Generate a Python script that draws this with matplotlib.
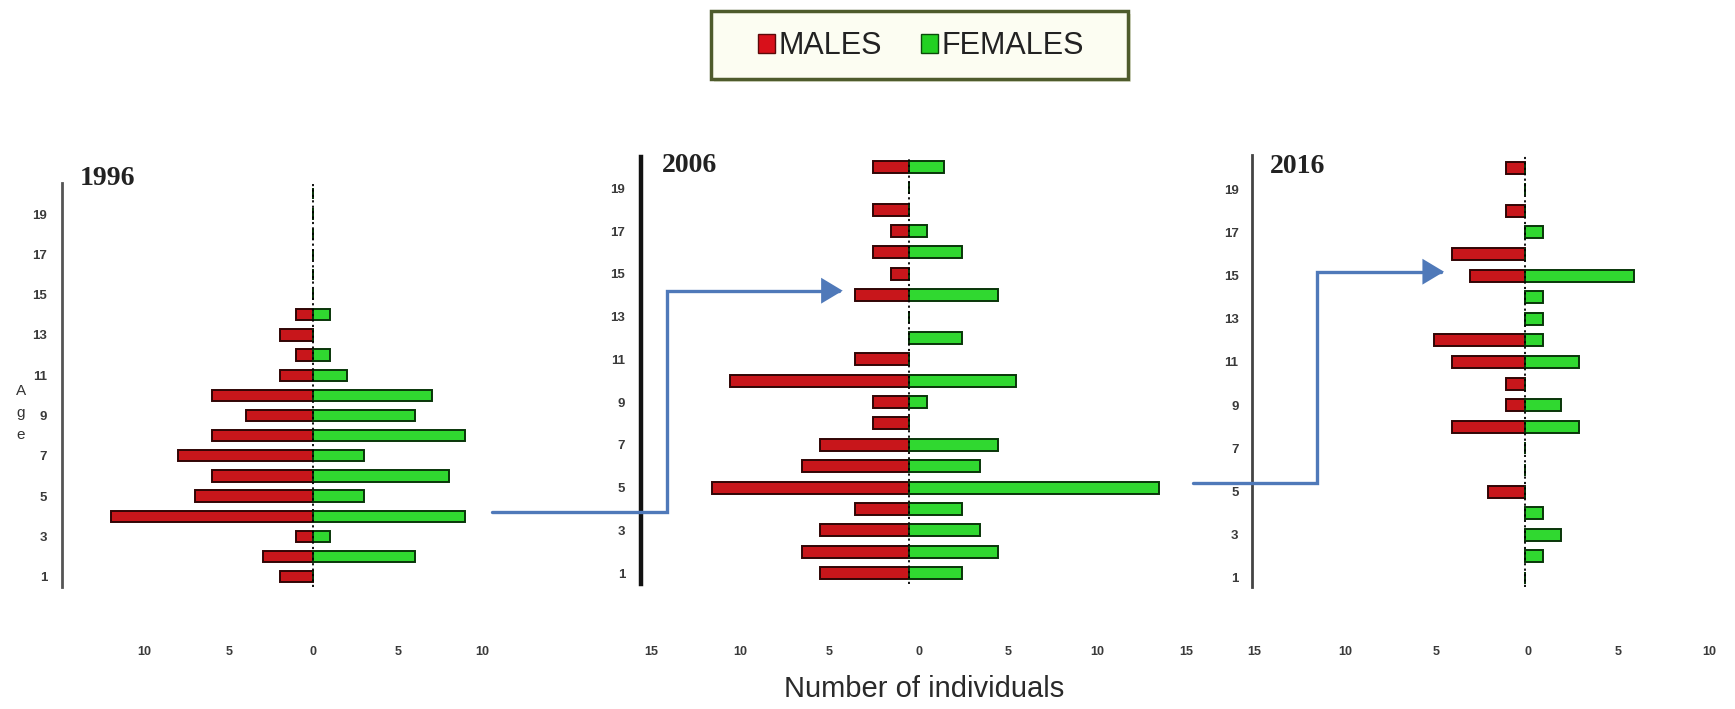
import matplotlib
matplotlib.use("Agg")
import matplotlib.pyplot as plt
from matplotlib.patches import Patch, FancyArrowPatch, Rectangle
from matplotlib.path import Path
import matplotlib.transforms as mtransforms

plt.rcParams['font.family'] = ['Liberation Sans', 'DejaVu Sans']

# ---------------- data ----------------
ages = list(range(1, 21))
males_1996 = [2, 3, 1, 12, 7, 6, 8, 6, 4, 6, 2, 1, 2, 1, 0, 0, 0, 0, 0, 0]
females_1996 = [0, 6, 1, 9, 3, 8, 3, 9, 6, 7, 2, 1, 0, 1, 0, 0, 0, 0, 0, 0]
males_2006 = [5, 6, 5, 3, 11, 6, 5, 2, 2, 10, 3, 0, 0, 3, 1, 2, 1, 2, 0, 2]
females_2006 = [3, 5, 4, 3, 14, 4, 5, 0, 1, 6, 0, 3, 0, 5, 0, 3, 1, 0, 0, 2]
males_2016 = [0, 0, 0, 0, 2, 0, 0, 4, 1, 1, 4, 5, 0, 0, 3, 4, 0, 1, 0, 1]
females_2016 = [0, 1, 2, 1, 0, 0, 0, 3, 2, 0, 3, 1, 1, 1, 6, 0, 1, 0, 0, 0]
years = ["1996", "2006", "2016"]
age_ticks = list(range(1, 20, 2))
x_ticks_1996 = [-10, -5, 0, 5, 10]
x_ticks_2006 = [-15, -10, -5, 0, 5, 10, 15]
x_ticks_2016 = [-15, -10, -5, 0, 5, 10]
legend_labels = ["MALES", "FEMALES"]
x_label = "Number of individuals"
y_label = "Age"

# ---------------- style ----------------
W, H, DPI = 1735, 709, 100
RED = "#c8161b"
RED_EDGE = "#300505"
GREEN = "#30d830"
GREEN_EDGE = "#093509"
BLUE = "#4f79b9"

fig = plt.figure(figsize=(W / DPI, H / DPI), dpi=DPI)
fig.patch.set_facecolor("white")


def fx(px):
    return px / W


def fy(py):
    return 1 - py / H


panels = [
    dict(year=years[0], m=males_1996, f=females_1996, ticks=x_ticks_1996,
         spine_x=61.7, x0=313.3, u=16.9, y1=576.7, dy=20.15, top=183, bot=587,
         right=525, spine_lw=2.0, spine_col="#555555", ypad=10.5,
         title=(80, 185), xoff=0),
    dict(year=years[1], m=males_2006, f=females_2006, ticks=x_ticks_2006,
         spine_x=641, x0=908, u=17.9, y1=573, dy=21.37, top=157, bot=584,
         right=1205, spine_lw=3.2, spine_col="#111111", ypad=11.5,
         title=(662, 172), xoff=10),
    dict(year=years[2], m=males_2016, f=females_2016, ticks=x_ticks_2016,
         spine_x=1251.7, x0=1523.3, u=18.3, y1=578, dy=21.6, top=155, bot=587,
         right=1730, spine_lw=2.0, spine_col="#444444", ypad=9.5,
         title=(1270, 173), xoff=3),
]

AX_TOP, AX_BOT = 140, 640

for p in panels:
    left, right = p["spine_x"], p["right"]
    ax = fig.add_axes([fx(left), fy(AX_BOT), (right - left) / W, (AX_BOT - AX_TOP) / H])
    ax.set_facecolor("none")

    def age_at(py, p=p):
        return 1 + (p["y1"] - py) / p["dy"]

    ax.set_xlim((left - p["x0"]) / p["u"], (right - p["x0"]) / p["u"])
    ax.set_ylim(age_at(AX_BOT), age_at(AX_TOP))

    ax.barh(ages, [-v for v in p["m"]], height=0.56, color=RED,
            edgecolor=RED_EDGE, linewidth=1.4, zorder=3)
    ax.barh(ages, p["f"], height=0.56, color=GREEN,
            edgecolor=GREEN_EDGE, linewidth=1.4, zorder=3)

    ax.plot([0, 0], [age_at(p["bot"]), age_at(p["top"])], color="black",
            linestyle=(0, (1.2, 1.8)), linewidth=1.3, zorder=4)

    for s in ["top", "right", "bottom"]:
        ax.spines[s].set_visible(False)
    ax.spines["left"].set_bounds(age_at(p["bot"]), age_at(p["top"]))
    ax.spines["left"].set_linewidth(p["spine_lw"])
    ax.spines["left"].set_color(p["spine_col"])

    ax.set_yticks(age_ticks)
    ax.set_yticklabels([str(a) for a in age_ticks], fontweight="bold")
    ax.tick_params(axis="y", length=0, pad=p["ypad"], labelsize=9.5, labelcolor="#3a3a3a")

    ax.set_xticks(p["ticks"])
    ax.set_xticklabels([str(abs(t)) for t in p["ticks"]], fontweight="bold")
    ax.tick_params(axis="x", length=0, pad=4.5, labelsize=9, labelcolor="#3a3a3a")
    if p["xoff"]:
        off = mtransforms.ScaledTranslation(p["xoff"] / DPI, 0, fig.dpi_scale_trans)
        for lab in ax.get_xticklabels():
            lab.set_transform(lab.get_transform() + off)

    fig.text(fx(p["title"][0]), fy(p["title"][1]), p["year"],
             family="Liberation Serif", fontweight="bold", fontsize=20,
             ha="left", va="baseline", color="#222222")

# Age label (stacked letters)
fig.text(fx(21), fy(413), "\n".join(y_label), ha="center", va="center",
         fontsize=11, color="#333333", linespacing=1.75)

# x label
fig.text(fx(924), fy(689), x_label, ha="center", va="center",
         fontsize=21, color="#2a2a2a")

# legend frame + legend
frame = Rectangle((fx(711), fy(79)), fx(1128) - fx(711), fy(11) - fy(79),
                  transform=fig.transFigure, facecolor="#fcfdf2",
                  edgecolor="#4e5b2c", linewidth=2.5, zorder=1)
shadow = Rectangle((fx(714), fy(82)), fx(1128) - fx(711), fy(11) - fy(79),
                   transform=fig.transFigure, facecolor="#e6e9d8",
                   edgecolor="none", zorder=0.9)
fig.add_artist(shadow)
fig.add_artist(frame)
handles = [Patch(facecolor="#d8101a", edgecolor="#5a0a0a", linewidth=1.0),
           Patch(facecolor="#22d022", edgecolor="#0a4a0a", linewidth=1.0)]
leg = fig.legend(handles, legend_labels, loc="center",
                 bbox_to_anchor=(fx(921), fy(46)), ncol=2, frameon=False,
                 fontsize=22, handlelength=0.55, handleheight=0.6,
                 handletextpad=0.1, columnspacing=1.3, borderpad=0.2)
leg.set_zorder(5)
for t in leg.get_texts():
    t.set_color("#222222")

# arrows
arrow_paths = [
    [(492, 511.7), (666.7, 511.7), (666.7, 290.7), (842.7, 290.7)],
    [(1193, 483.3), (1316.7, 483.3), (1316.7, 271.7), (1444, 271.7)],
]
for verts in arrow_paths:
    pts = [(fx(x), fy(y)) for x, y in verts]
    path = Path(pts, [Path.MOVETO] + [Path.LINETO] * (len(pts) - 1))
    arr = FancyArrowPatch(path=path, arrowstyle="-|>,head_length=0.6,head_width=0.36",
                          mutation_scale=20, color=BLUE, linewidth=2.4,
                          transform=fig.transFigure, joinstyle="miter", zorder=6)
    fig.add_artist(arr)

fig.savefig("out.png", dpi=DPI)
